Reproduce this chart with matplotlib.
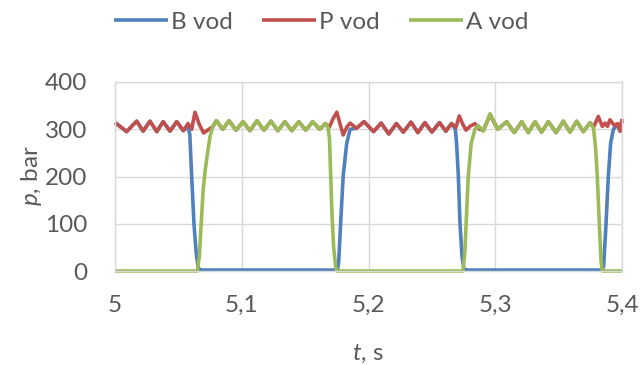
import matplotlib
matplotlib.use("Agg")
import matplotlib.pyplot as plt

plt.rcParams['font.family'] = ['Lato', 'DejaVu Sans']
plt.rcParams['mathtext.fontset'] = 'custom'
plt.rcParams['mathtext.it'] = 'Lato:italic'
plt.rcParams['mathtext.rm'] = 'Lato'

# ---- data ----
t_B = [5.0000, 5.0045, 5.0092, 5.0130, 5.0171, 5.0222, 5.0276, 5.0330, 5.0380, 5.0434,
       5.0487, 5.0539, 5.0576, 5.0590, 5.0605, 5.0623, 5.0640, 5.0657, 5.0680, 5.1755,
       5.1765, 5.1780, 5.1800, 5.1828, 5.1855, 5.1905, 5.1965, 5.2040, 5.2100, 5.2160,
       5.2220, 5.2275, 5.2335, 5.2390, 5.2445, 5.2500, 5.2560, 5.2610, 5.2655, 5.2685,
       5.2695, 5.2709, 5.2722, 5.2738, 5.2753, 5.2780, 5.3845, 5.3855, 5.3874, 5.3892,
       5.3910, 5.3932, 5.3965, 5.3985, 5.4000]
B_vod = [314, 305, 295, 306, 317, 296, 317, 295, 316, 296,
         316, 297, 305, 290, 200, 100, 40, 6, 2, 2,
         20, 100, 200, 270, 300, 302, 316, 295, 313, 290,
         312, 294, 315, 293, 314, 294, 314, 296, 312, 300,
         270, 200, 100, 30, 4, 2, 2, 10, 100, 200,
         270, 300, 310, 296, 318]

t_P = [5.0000, 5.0045, 5.0092, 5.0130, 5.0171, 5.0222, 5.0276, 5.0330, 5.0380, 5.0434,
       5.0487, 5.0539, 5.0576, 5.0605, 5.0631, 5.0665, 5.0700, 5.0730, 5.0770, 5.0800,
       5.0850, 5.0900, 5.0955, 5.1010, 5.1065, 5.1120, 5.1175, 5.1230, 5.1285, 5.1340,
       5.1395, 5.1450, 5.1505, 5.1560, 5.1615, 5.1660, 5.1690, 5.1720, 5.1750, 5.1775,
       5.1800, 5.1830, 5.1855, 5.1905, 5.1965, 5.2040, 5.2100, 5.2160, 5.2220, 5.2275,
       5.2335, 5.2390, 5.2445, 5.2500, 5.2560, 5.2610, 5.2655, 5.2690, 5.2716, 5.2745,
       5.2770, 5.2800, 5.2840, 5.2875, 5.2906, 5.2959, 5.3020, 5.3090, 5.3150, 5.3209,
       5.3260, 5.3314, 5.3365, 5.3419, 5.3480, 5.3537, 5.3590, 5.3643, 5.3695, 5.3748,
       5.3775, 5.3813, 5.3845, 5.3866, 5.3885, 5.3905, 5.3940, 5.3965, 5.3985, 5.4000]
P_vod = [314, 305, 295, 306, 317, 296, 317, 295, 316, 296,
         316, 297, 312, 300, 336, 310, 292, 298, 305, 318,
         300, 318, 298, 316, 297, 318, 298, 317, 297, 316,
         297, 316, 298, 316, 300, 312, 304, 322, 336, 312,
         288, 305, 313, 302, 316, 295, 313, 290, 312, 294,
         315, 293, 314, 294, 314, 296, 312, 304, 328, 310,
         298, 306, 312, 300, 298, 330, 300, 316, 293, 316,
         293, 316, 294, 316, 293, 317, 294, 317, 295, 314,
         304, 327, 306, 313, 306, 320, 308, 312, 296, 322]

t_A = [5.0000, 5.0650, 5.0665, 5.0680, 5.0695, 5.0710, 5.0730, 5.0750, 5.0770, 5.0800,
       5.0850, 5.0900, 5.0955, 5.1010, 5.1065, 5.1120, 5.1175, 5.1230, 5.1285, 5.1340,
       5.1395, 5.1450, 5.1505, 5.1560, 5.1615, 5.1660, 5.1680, 5.1692, 5.1702, 5.1712,
       5.1725, 5.1740, 5.1750, 5.2745, 5.2760, 5.2770, 5.2787, 5.2810, 5.2840, 5.2865,
       5.2906, 5.2959, 5.3020, 5.3090, 5.3150, 5.3209, 5.3260, 5.3314, 5.3365, 5.3419,
       5.3480, 5.3537, 5.3590, 5.3643, 5.3695, 5.3748, 5.3775, 5.3792, 5.3805, 5.3821,
       5.3835, 5.3845, 5.4000]
A_vod = [0, 0, 30, 100, 170, 210, 250, 285, 305, 318,
         300, 318, 298, 316, 297, 318, 298, 317, 297, 316,
         297, 316, 298, 316, 300, 312, 305, 280, 200, 120,
         50, 10, 0, 0, 40, 100, 200, 270, 300, 308,
         296, 333, 300, 316, 293, 316, 293, 316, 294, 316,
         293, 317, 294, 317, 295, 314, 303, 260, 200, 100,
         20, 0, 0]

series_names = ["B vod", "P vod", "A vod"]
series_colors = ["#4F81BD", "#C0504D", "#9BBB59"]

x_ticks = [5.0, 5.1, 5.2, 5.3, 5.4]
x_ticklabels = ["5", "5,1", "5,2", "5,3", "5,4"]
y_ticks = [0, 100, 200, 300, 400]
y_ticklabels = ["0", "100", "200", "300", "400"]

# ---- figure ----
fig = plt.figure(figsize=(6.43, 3.65), dpi=100)
W, H = 643, 365
ax = fig.add_axes([115 / W, 1 - 271 / H, 507 / W, 189 / H])

for (tt, vv), name, col in zip([(t_B, B_vod), (t_P, P_vod), (t_A, A_vod)],
                               series_names, series_colors):
    ax.plot(tt, vv, color=col, lw=2.6, label=name, clip_on=False,
            solid_joinstyle='round', solid_capstyle='butt')

ax.set_xlim(5.0, 5.4)
ax.set_ylim(0, 400)
ax.set_xticks(x_ticks)
ax.set_xticklabels(x_ticklabels)
ax.set_yticks(y_ticks)
ax.set_yticklabels(y_ticklabels)
ax.tick_params(axis='both', length=0, labelsize=17.5, colors='#595959')
ax.tick_params(axis='y', pad=20)
ax.tick_params(axis='x', pad=17)
ax.grid(True, color='#D9D9D9', lw=1)
ax.set_axisbelow(True)
for s in ax.spines.values():
    s.set_color('#D9D9D9')
    s.set_linewidth(1)

fig.text(368 / W, 1 - 354 / H, r'$t$, s', ha='center', va='center',
         fontsize=17.5, color='#595959')
fig.text(32 / W, 1 - 176 / H, r'$p$, bar', ha='center', va='center',
         rotation=90, fontsize=17.5, color='#595959')

fig.legend(loc='center', bbox_to_anchor=(0.5, 1 - 22 / H), ncol=3,
           frameon=False, fontsize=17.5, handlelength=2.2, handletextpad=0.15,
           columnspacing=1.2, labelcolor='#595959')

fig.savefig("out.png", dpi=100)
